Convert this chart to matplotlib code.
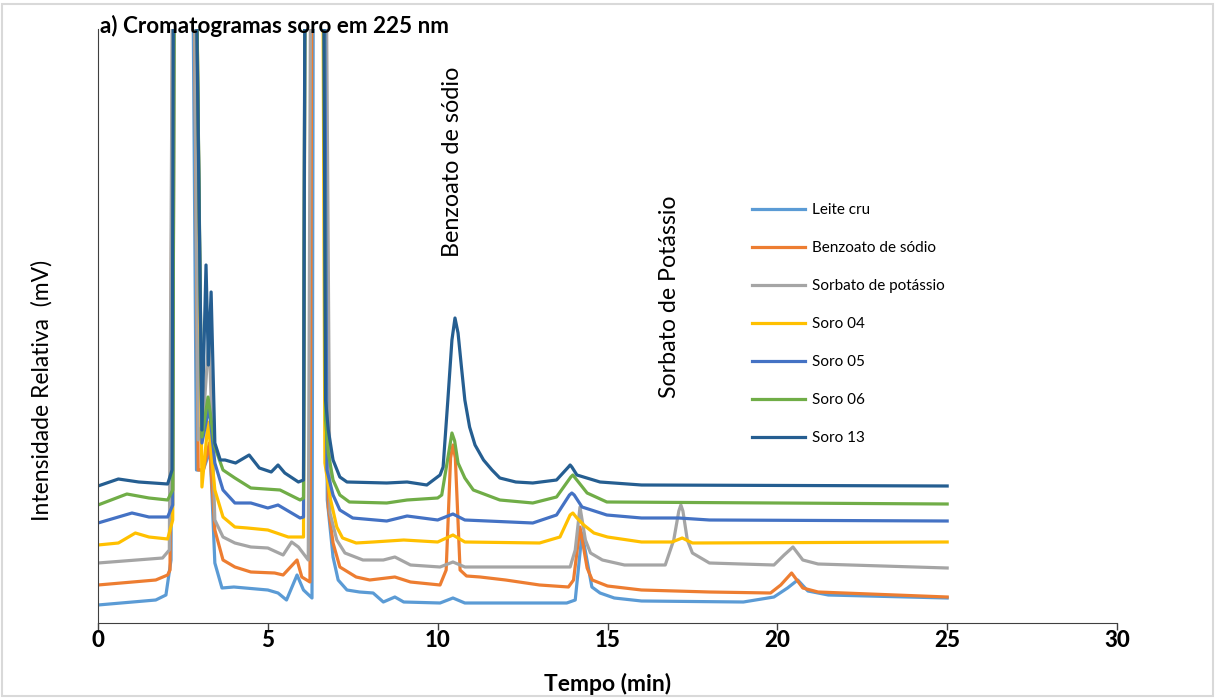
import matplotlib
matplotlib.use("Agg")
import matplotlib.pyplot as plt
from matplotlib.patches import Rectangle

plt.rcParams['font.family'] = ['Lato', 'DejaVu Sans']

TOP = 1000  # off-scale solvent / matrix peaks, clipped by the axes

# tempo (min) / intensidade relativa for each chromatogram
t_leite = [0, 1.7, 2.0, 2.15, 2.25, 2.72, 2.9, 3.1, 3.3, 3.44, 3.65, 4.0, 5.0, 5.3, 5.55, 5.86, 6.05, 6.3, 6.36,
           6.6, 6.75, 6.92, 7.07, 7.33, 7.7, 8.1, 8.4, 8.74, 9.0, 10.07, 10.45, 10.8, 13.8, 14.05, 14.25, 14.54,
           14.78, 15.2, 16.0, 19.0, 19.9, 20.3, 20.6, 20.9, 21.5, 25]
i_leite = [18, 23, 28, 63, TOP, TOP, 153, 153, 173, 60, 35, 36, 33, 30, 23, 48, 33, 25, TOP,
           TOP, 123, 66, 43, 33, 31, 30, 21, 26, 21, 20, 25, 20, 20, 23, 90, 36,
           30, 25, 22, 21, 26, 35, 43, 32, 28, 25]

t_benz = [0, 1.7, 2.05, 2.12, 2.25, 2.75, 2.95, 3.1, 3.28, 3.44, 3.68, 4.03, 4.5, 5.2, 5.45, 5.86, 6.0, 6.24,
          6.33, 6.62, 6.78, 6.92, 7.12, 7.6, 8.0, 8.74, 9.2, 10.07, 10.25, 10.38, 10.45, 10.52, 10.66, 10.85,
          11.25, 12.0, 13.0, 13.85, 14.0, 14.19, 14.4, 14.55, 15.0, 16.0, 18.0, 19.8, 20.1, 20.42, 20.75, 21.2,
          25]
i_benz = [38, 43, 48, 53, TOP, TOP, 153, 153, 180, 93, 63, 56, 51, 50, 48, 63, 46, 41,
          TOP, TOP, 116, 80, 56, 46, 43, 46, 41, 38, 53, 165, 178, 165, 53, 47,
          46, 43, 38, 36, 43, 96, 55, 43, 37, 33, 31, 30, 38, 50, 35, 31,
          26]

t_sorb = [0, 1.9, 2.1, 2.25, 2.75, 2.95, 3.1, 3.27, 3.44, 3.68, 4.03, 4.5, 5.0, 5.45, 5.7, 5.9, 6.19, 6.3,
          6.65, 6.83, 7.03, 7.27, 7.8, 8.4, 8.74, 9.2, 10.07, 10.45, 10.8, 13.9, 14.05, 14.19, 14.35, 14.5,
          14.85, 15.5, 16.7, 16.95, 17.1, 17.16, 17.22, 17.35, 17.5, 18.0, 19.9, 20.2, 20.46, 20.75, 21.2, 25]
i_sorb = [60, 65, 73, TOP, TOP, 183, 203, 288, 103, 86, 80, 76, 75, 68, 81, 76, 63, TOP,
          TOP, 110, 83, 70, 63, 63, 66, 58, 56, 61, 56, 56, 73, 116, 83, 70,
          63, 58, 58, 83, 112, 118, 112, 83, 70, 60, 58, 68, 76, 63, 59, 55]

t_s04 = [0, 0.6, 1.1, 1.5, 2.05, 2.2, 2.27, 2.8, 3.06, 3.24, 3.44, 3.68, 4.03, 4.4, 5.0, 5.6, 6.05, 6.12,
         6.58, 6.68, 6.83, 7.03, 7.2, 7.6, 8.1, 9.0, 10.0, 10.45, 10.8, 13.0, 13.6, 13.9, 13.98, 14.1, 14.3,
         14.6, 15.0, 16.0, 16.9, 17.2, 17.5, 25]
i_s04 = [78, 80, 90, 86, 84, 103, TOP, TOP, 136, 201, 133, 106, 96, 95, 93, 86, 86, TOP,
         TOP, 160, 126, 96, 85, 80, 81, 83, 81, 88, 81, 80, 86, 108, 110, 105, 98,
         90, 86, 81, 81, 85, 80, 81]

t_s05 = [0, 1.0, 1.5, 2.05, 2.2, 2.27, 2.78, 3.06, 3.27, 3.44, 3.68, 4.03, 4.5, 5.0, 5.3, 5.95, 6.05, 6.12,
         6.62, 6.74, 6.92, 7.12, 7.5, 8.5, 9.1, 10.0, 10.45, 10.8, 12.8, 13.5, 13.88, 13.95, 14.02, 14.25,
         14.98, 16.0, 17.1, 18.0, 25]
i_s05 = [100, 110, 106, 106, 118, TOP, TOP, 180, 216, 160, 133, 120, 120, 115, 118, 105, 106, TOP,
         TOP, 153, 128, 113, 105, 102, 107, 103, 109, 103, 100, 108, 128, 130, 128, 116,
         108, 105, 105, 103, 102]

t_s06 = [0, 0.85, 1.5, 2.05, 2.2, 2.27, 2.78, 3.06, 3.24, 3.44, 3.68, 4.03, 4.5, 5.36, 5.95, 6.05, 6.12,
         6.6, 6.7, 6.78, 6.92, 7.12, 7.4, 8.5, 9.1, 10.0, 10.12, 10.3, 10.42, 10.5, 10.6, 10.8, 11.05, 11.83,
         12.8, 13.5, 13.92, 13.98, 14.05, 14.4, 14.98, 25]
i_s06 = [118, 129, 125, 123, 133, TOP, TOP, 186, 226, 176, 153, 145, 135, 133, 123, 125, TOP,
         TOP, 203, 170, 143, 128, 121, 120, 123, 125, 128, 165, 190, 182, 160, 145, 133, 123,
         120, 126, 146, 148, 145, 130, 121, 119]

t_s13 = [0, 0.6, 1.2, 2.05, 2.18, 2.25, 2.76, 3.06, 3.18, 3.25, 3.33, 3.44, 3.6, 3.74, 4.05, 4.45, 4.75,
         5.1, 5.3, 5.5, 5.9, 6.05, 6.12, 6.6, 6.7, 6.78, 6.92, 7.12, 7.33, 8.5, 9.1, 9.68, 10.07, 10.16,
         10.3, 10.42, 10.51, 10.6, 10.7, 10.8, 10.94, 11.1, 11.35, 11.6, 11.83, 12.3, 12.8, 13.5, 13.85,
         13.9, 13.95, 14.1, 14.78, 16.0, 25]
i_s13 = [137, 144, 141, 139, 153, TOP, TOP, 193, 358, 258, 331, 180, 163, 163, 160, 168, 155,
         151, 158, 150, 141, 143, TOP, TOP, 223, 193, 163, 146, 141, 140, 141, 138, 148, 156,
         223, 283, 305, 290, 256, 223, 196, 178, 163, 153, 145, 141, 140, 143, 156,
         158, 156, 148, 141, 138, 137]

nomes = ['Leite cru', 'Benzoato de sódio', 'Sorbato de potássio', 'Soro 04', 'Soro 05', 'Soro 06', 'Soro 13']
cores = ['#5B9BD5', '#ED7D31', '#A5A5A5', '#FFC000', '#4472C4', '#70AD47', '#255E91']
tempos = [t_leite, t_benz, t_sorb, t_s04, t_s05, t_s06, t_s13]
sinais = [i_leite, i_benz, i_sorb, i_s04, i_s05, i_s06, i_s13]
ticks_x = [0, 5, 10, 15, 20, 25, 30]

fig = plt.figure(figsize=(12.17, 6.98), dpi=100)
ax = fig.add_axes([98 / 1217, 1 - 623 / 698, (1117 - 98) / 1217, (623 - 29) / 698])

for t, s, nome, cor in zip(tempos, sinais, nomes, cores):
    ax.plot(t, s, color=cor, lw=2.3, label=nome, solid_joinstyle='round')

ax.set_xlim(0, 30)
ax.set_ylim(0, 594)
ax.tick_params(axis='x', direction='out', length=5, width=1, color='#404040', pad=0)
ax.set_xticks(ticks_x)
ax.set_xticklabels([str(v) for v in ticks_x], fontdict={'fontsize': 16, 'fontweight': 900})
ax.set_yticks([])
for side in ['top', 'right']:
    ax.spines[side].set_visible(False)
ax.spines['left'].set_color('#404040')
ax.spines['bottom'].set_color('#404040')

ax.set_xlabel('Tempo (min)', fontsize=16.5, fontweight='bold', labelpad=15.5)
fig.text(42 / 1217, 1 - 390 / 698, 'Intensidade Relativa  (mV)', fontsize=16.5, rotation=90,
         ha='center', va='center')

ax.text(10.45, 461, 'Benzoato de sódio', rotation=90, fontsize=16.8, ha='center', va='center')
ax.text(16.84, 326, 'Sorbato de Potássio', rotation=90, fontsize=16.7, ha='center', va='center')

fig.text(100 / 1217, 1 - 26 / 698, 'a) Cromatogramas soro em 225 nm', fontsize=16.2, fontweight='bold',
         ha='left', va='center')

ax.legend(loc='upper left', bbox_to_anchor=(752 / 1217, 1 - 203.5 / 698), bbox_transform=fig.transFigure,
          frameon=False, fontsize=11, handlelength=3.45, handletextpad=0.45, labelspacing=1.57,
          borderpad=0, borderaxespad=0)

fig.patches.append(Rectangle((2 / 1217, 2 / 698), 1211 / 1217, 692 / 698, transform=fig.transFigure,
                             fill=False, edgecolor='#D9D9D9', lw=1.5))

fig.savefig('out.png', dpi=100)
